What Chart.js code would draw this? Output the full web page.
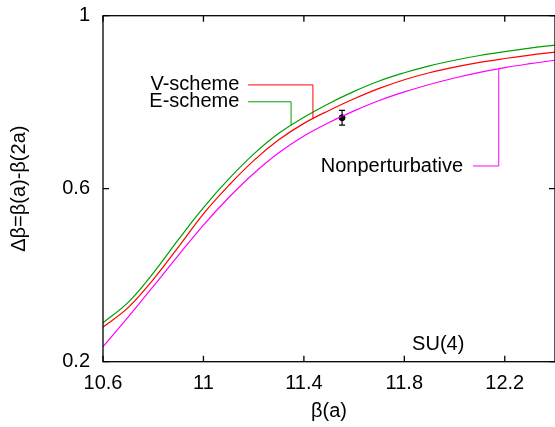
<!DOCTYPE html>
<html>
<head>
<meta charset="utf-8">
<title>SU(4) beta shift</title>
<script src="https://cdn.jsdelivr.net/npm/chart.js@4.4.1/dist/chart.umd.min.js"></script>
<style>
    html, body { margin: 0; padding: 0; background: #fff; overflow: hidden; }
    #wrap { width: 555px; height: 427px; overflow: hidden; }
    canvas { display: block; }
</style>
</head>
<body>
<div id="wrap"><canvas id="chart" width="560" height="427"></canvas></div>
<script>
// beta(a) grid and the three curves
const beta = [10.6, 10.7, 10.8, 10.9, 11.0, 11.1, 11.2, 11.3, 11.4, 11.5,
              11.6, 11.7, 11.8, 11.9, 12.0, 12.1, 12.2, 12.3, 12.4];
const vScheme = [0.280, 0.325, 0.390, 0.465, 0.542, 0.607, 0.665, 0.713, 0.751, 0.781,
                 0.808, 0.832, 0.852, 0.868, 0.881, 0.892, 0.901, 0.909, 0.916];
const eScheme = [0.290, 0.337, 0.405, 0.482, 0.556, 0.622, 0.680, 0.728, 0.765, 0.797,
                 0.825, 0.849, 0.868, 0.884, 0.897, 0.908, 0.917, 0.925, 0.932];
const nonPert = [0.235, 0.303, 0.374, 0.446, 0.516, 0.579, 0.635, 0.683, 0.722, 0.753,
                 0.780, 0.804, 0.824, 0.841, 0.856, 0.869, 0.880, 0.889, 0.897];

// Monte Carlo point with error
const mcBeta = [11.552];
const mcDelta = [0.764];
const mcErr = [0.017];

const xTicks = [10.6, 11, 11.4, 11.8, 12.2];
const yTicks = [0.2, 0.6, 1];

const FONT = '"Liberation Sans", Arial, sans-serif';
Chart.defaults.color = '#000';
Chart.defaults.font.family = FONT;
Chart.defaults.font.size = 20;

function pairs(xs, ys) {
    return xs.map((v, i) => ({ x: v, y: ys[i] }));
}

// labels with their leader lines (data coordinates)
const callouts = [
    { text: 'V-scheme', color: '#ff0000', tx: 11.143, ty: 0.840,
      path: [[11.178, 0.840], [11.436, 0.840], [11.436, 0.761]] },
    { text: 'E-scheme', color: '#00a000', tx: 11.143, ty: 0.801,
      path: [[11.178, 0.801], [11.349, 0.801], [11.349, 0.746]] },
    { text: 'Nonperturbative', color: '#ff00ff', tx: 12.034, ty: 0.6525,
      path: [[12.073, 0.6525], [12.176, 0.6525], [12.176, 0.876]] }
];

const framePlugin = {
    id: 'frame',
    afterDatasetsDraw(chart) {
        const { ctx, chartArea: a, scales: { x, y } } = chart;
        ctx.save();

        // frame + mirrored inward ticks
        ctx.strokeStyle = '#000';
        ctx.lineWidth = 1.3;
        ctx.strokeRect(a.left, a.top, a.right - a.left, a.bottom - a.top);
        ctx.beginPath();
        xTicks.forEach(v => {
            const px = x.getPixelForValue(v);
            ctx.moveTo(px, a.bottom); ctx.lineTo(px, a.bottom - 6);
            ctx.moveTo(px, a.top); ctx.lineTo(px, a.top + 6);
        });
        yTicks.forEach(v => {
            const py = y.getPixelForValue(v);
            ctx.moveTo(a.left, py); ctx.lineTo(a.left + 6, py);
            ctx.moveTo(a.right, py); ctx.lineTo(a.right - 6, py);
        });
        ctx.stroke();

        // error bars
        ctx.lineWidth = 1.2;
        ctx.beginPath();
        mcBeta.forEach((b, i) => {
            const px = x.getPixelForValue(b);
            const lo = y.getPixelForValue(mcDelta[i] - mcErr[i]);
            const hi = y.getPixelForValue(mcDelta[i] + mcErr[i]);
            ctx.moveTo(px, lo); ctx.lineTo(px, hi);
            ctx.moveTo(px - 3, lo); ctx.lineTo(px + 3, lo);
            ctx.moveTo(px - 3, hi); ctx.lineTo(px + 3, hi);
        });
        ctx.stroke();

        // callouts
        ctx.font = '20px ' + FONT;
        ctx.textAlign = 'right';
        ctx.textBaseline = 'middle';
        callouts.forEach(c => {
            ctx.fillStyle = '#000';
            ctx.fillText(c.text, x.getPixelForValue(c.tx), y.getPixelForValue(c.ty));
            ctx.strokeStyle = c.color;
            ctx.lineWidth = 1;
            ctx.beginPath();
            c.path.forEach((p, j) => {
                const px = x.getPixelForValue(p[0]), py = y.getPixelForValue(p[1]);
                if (j === 0) ctx.moveTo(px, py); else ctx.lineTo(px, py);
            });
            ctx.stroke();
        });

        // group label
        ctx.textAlign = 'center';
        ctx.fillStyle = '#000';
        ctx.fillText('SU(4)', x.getPixelForValue(11.935), y.getPixelForValue(0.239));

        ctx.restore();
    }
};

const lineStyle = {
    type: 'line',
    borderWidth: 1.2,
    pointRadius: 0,
    tension: 0.4,
    fill: false
};

new Chart(document.getElementById('chart'), {
    data: {
        datasets: [
            Object.assign({ label: 'E-scheme', data: pairs(beta, eScheme), borderColor: '#00a000' }, lineStyle),
            Object.assign({ label: 'V-scheme', data: pairs(beta, vScheme), borderColor: '#ff0000' }, lineStyle),
            Object.assign({ label: 'Nonperturbative', data: pairs(beta, nonPert), borderColor: '#ff00ff' }, lineStyle),
            {
                type: 'scatter',
                label: 'MC',
                data: pairs(mcBeta, mcDelta),
                backgroundColor: '#000',
                borderColor: '#000',
                pointRadius: 3
            }
        ]
    },
    options: {
        responsive: false,
        animation: false,
        events: [],
        layout: { padding: { top: 15.7, right: 2.5, left: 0, bottom: 0 } },
        plugins: { legend: { display: false }, tooltip: { enabled: false } },
        scales: {
            x: {
                type: 'linear',
                min: 10.6,
                max: 12.4,
                grid: { display: false, drawTicks: false },
                border: { display: false },
                afterBuildTicks: s => { s.ticks = xTicks.map(v => ({ value: v })); },
                afterFit: s => { s.height = 65.3; },
                ticks: { padding: 10, callback: v => String(v) },
                title: { display: true, text: 'β(a)', padding: { top: 4, bottom: 4 } }
            },
            y: {
                type: 'linear',
                min: 0.2,
                max: 1,
                grid: { display: false, drawTicks: false },
                border: { display: false },
                afterBuildTicks: s => { s.ticks = yTicks.map(v => ({ value: v })); },
                afterFit: s => { s.width = 103; s.paddingTop = 0; s.paddingBottom = 0; },
                ticks: { padding: 13, callback: v => String(v) },
                title: { display: true, text: 'Δβ=β(a)-β(2a)', padding: { top: 7.5, bottom: 7.5 } }
            }
        }
    },
    plugins: [framePlugin]
});
</script>
</body>
</html>
